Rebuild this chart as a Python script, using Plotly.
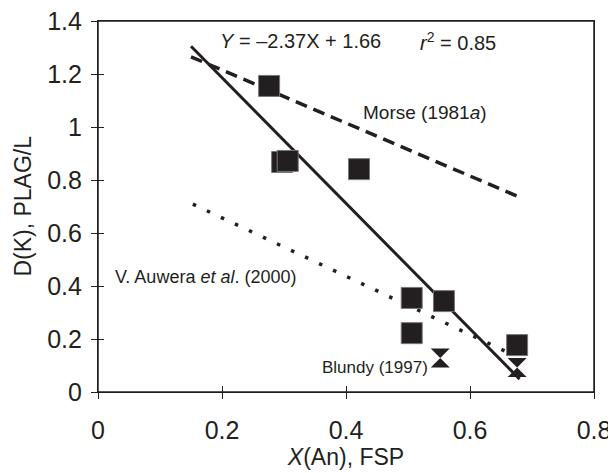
import plotly.graph_objects as go

# Data
sq_x = [0.276, 0.297, 0.306, 0.421, 0.506, 0.506, 0.558, 0.676]
sq_y = [1.155, 0.868, 0.872, 0.841, 0.355, 0.222, 0.343, 0.177]

blundy_x = [0.552, 0.676]
blundy_y = [0.128, 0.092]

fit_slope = -2.37
fit_intercept = 1.66
fit_x = [0.15, 0.68]
fit_y = [fit_slope * v + fit_intercept for v in fit_x]

morse_x = [0.15, 0.68]
morse_y = [1.265, 0.735]

auwera_x = [0.153, 0.665]
auwera_y = [0.709, 0.145]

x_ticks = [0, 0.2, 0.4, 0.6, 0.8]
x_tick_text = ["0", "0.2", "0.4", "0.6", "0.8"]
y_ticks = [0, 0.2, 0.4, 0.6, 0.8, 1.0, 1.2, 1.4]
y_tick_text = ["0", "0.2", "0.4", "0.6", "0.8", "1", "1.2", "1.4"]

INK = "#231f20"
FONT = "Liberation Sans, Arial, sans-serif"

fig = go.Figure()

fig.add_trace(go.Scatter(x=morse_x, y=morse_y, mode="lines",
                         line=dict(color=INK, width=3.5, dash="12px,7px")))
fig.add_trace(go.Scatter(x=auwera_x, y=auwera_y, mode="lines",
                         line=dict(color=INK, width=3.5, dash="3.5px,12px")))
fig.add_trace(go.Scatter(x=fit_x, y=fit_y, mode="lines",
                         line=dict(color=INK, width=3)))
fig.add_trace(go.Scatter(x=sq_x, y=sq_y, mode="markers",
                         marker=dict(symbol="square", size=21, color=INK,
                                     line=dict(color="#777", width=1))))
fig.add_trace(go.Scatter(x=blundy_x, y=blundy_y, mode="markers",
                         marker=dict(symbol="hourglass", size=19, color=INK,
                                     line=dict(color=INK, width=0))))
# invisible trace on overlay axes (for the inner half of the crossing ticks)
fig.add_trace(go.Scatter(x=[0.4], y=[0.7], xaxis="x2", yaxis="y2",
                         mode="markers", marker=dict(opacity=0), hoverinfo="skip"))

fig.add_annotation(x=0.1935, y=1.323, xref="x", yref="y", xanchor="left", yanchor="middle",
                   text="<i>Y</i> = –2.37X + 1.66",
                   showarrow=False, font=dict(family=FONT, size=20, color=INK))
fig.add_annotation(x=0.645, y=1.323, xref="x", yref="y", xanchor="right", yanchor="middle",
                   text="<i>r</i><sup>2</sup> = 0.85",
                   showarrow=False, font=dict(family=FONT, size=20, color=INK))
fig.add_annotation(x=0.424, y=1.053, xref="x", yref="y", xanchor="left", yanchor="middle",
                   text="Morse (1981<i>a</i>)", showarrow=False,
                   font=dict(family=FONT, size=19, color=INK))
fig.add_annotation(x=0.0237, y=0.434, xref="x", yref="y", xanchor="left", yanchor="middle",
                   text="V. Auwera <i>et al</i>. (2000)", showarrow=False,
                   font=dict(family=FONT, size=18, color=INK))
fig.add_annotation(x=0.535, y=0.094, xref="x", yref="y", xanchor="right", yanchor="middle",
                   text="Blundy (1997)", showarrow=False,
                   font=dict(family=FONT, size=17, color=INK))
# y-axis title
fig.add_annotation(x=-0.153, y=0.5, xref="paper", yref="paper", xanchor="center", yanchor="middle",
                   text="D(K), PLAG/L", textangle=-90, showarrow=False,
                   font=dict(family=FONT, size=23, color=INK))

# frame of the plot area
fig.add_shape(type="rect", xref="paper", yref="paper", x0=0, y0=0, x1=1, y1=1,
              line=dict(color=INK, width=1.5), layer="above")

tick_common = dict(showgrid=False, zeroline=False, tickcolor=INK, tickwidth=1.2, ticklen=6)

fig.update_layout(
    width=616, height=473,
    margin=dict(l=90, r=30, t=13, b=89, autoexpand=False),
    paper_bgcolor="white", plot_bgcolor="white",
    showlegend=False,
    font=dict(family=FONT, color=INK),
    xaxis=dict(range=[0, 0.8], tickvals=x_ticks, ticktext=x_tick_text,
               ticks="outside", showline=True, linecolor=INK, linewidth=1.2,
               mirror=True, automargin=False, ticklabeloverflow="allow",
               tickfont=dict(size=25, color=INK), ticklabelstandoff=10,
               title=dict(text="<i>X</i>(An), FSP", font=dict(size=23, color=INK), standoff=2),
               **tick_common),
    yaxis=dict(range=[0, 1.4], tickvals=y_ticks, ticktext=y_tick_text,
               ticks="outside", showline=True, linecolor=INK, linewidth=1.2,
               mirror=True, automargin=False, ticklabeloverflow="allow",
               tickfont=dict(size=25, color=INK), ticklabelstandoff=4,
               **tick_common),
    xaxis2=dict(overlaying="x", range=[0, 0.8], anchor="y2", side="bottom",
                tickvals=x_ticks, ticks="inside", showticklabels=False,
                showline=False, automargin=False, **tick_common),
    yaxis2=dict(overlaying="y", range=[0, 1.4], anchor="x2", side="left",
                tickvals=y_ticks, ticks="inside", showticklabels=False,
                showline=False, automargin=False, **tick_common),
)

fig.write_html("out.html")
